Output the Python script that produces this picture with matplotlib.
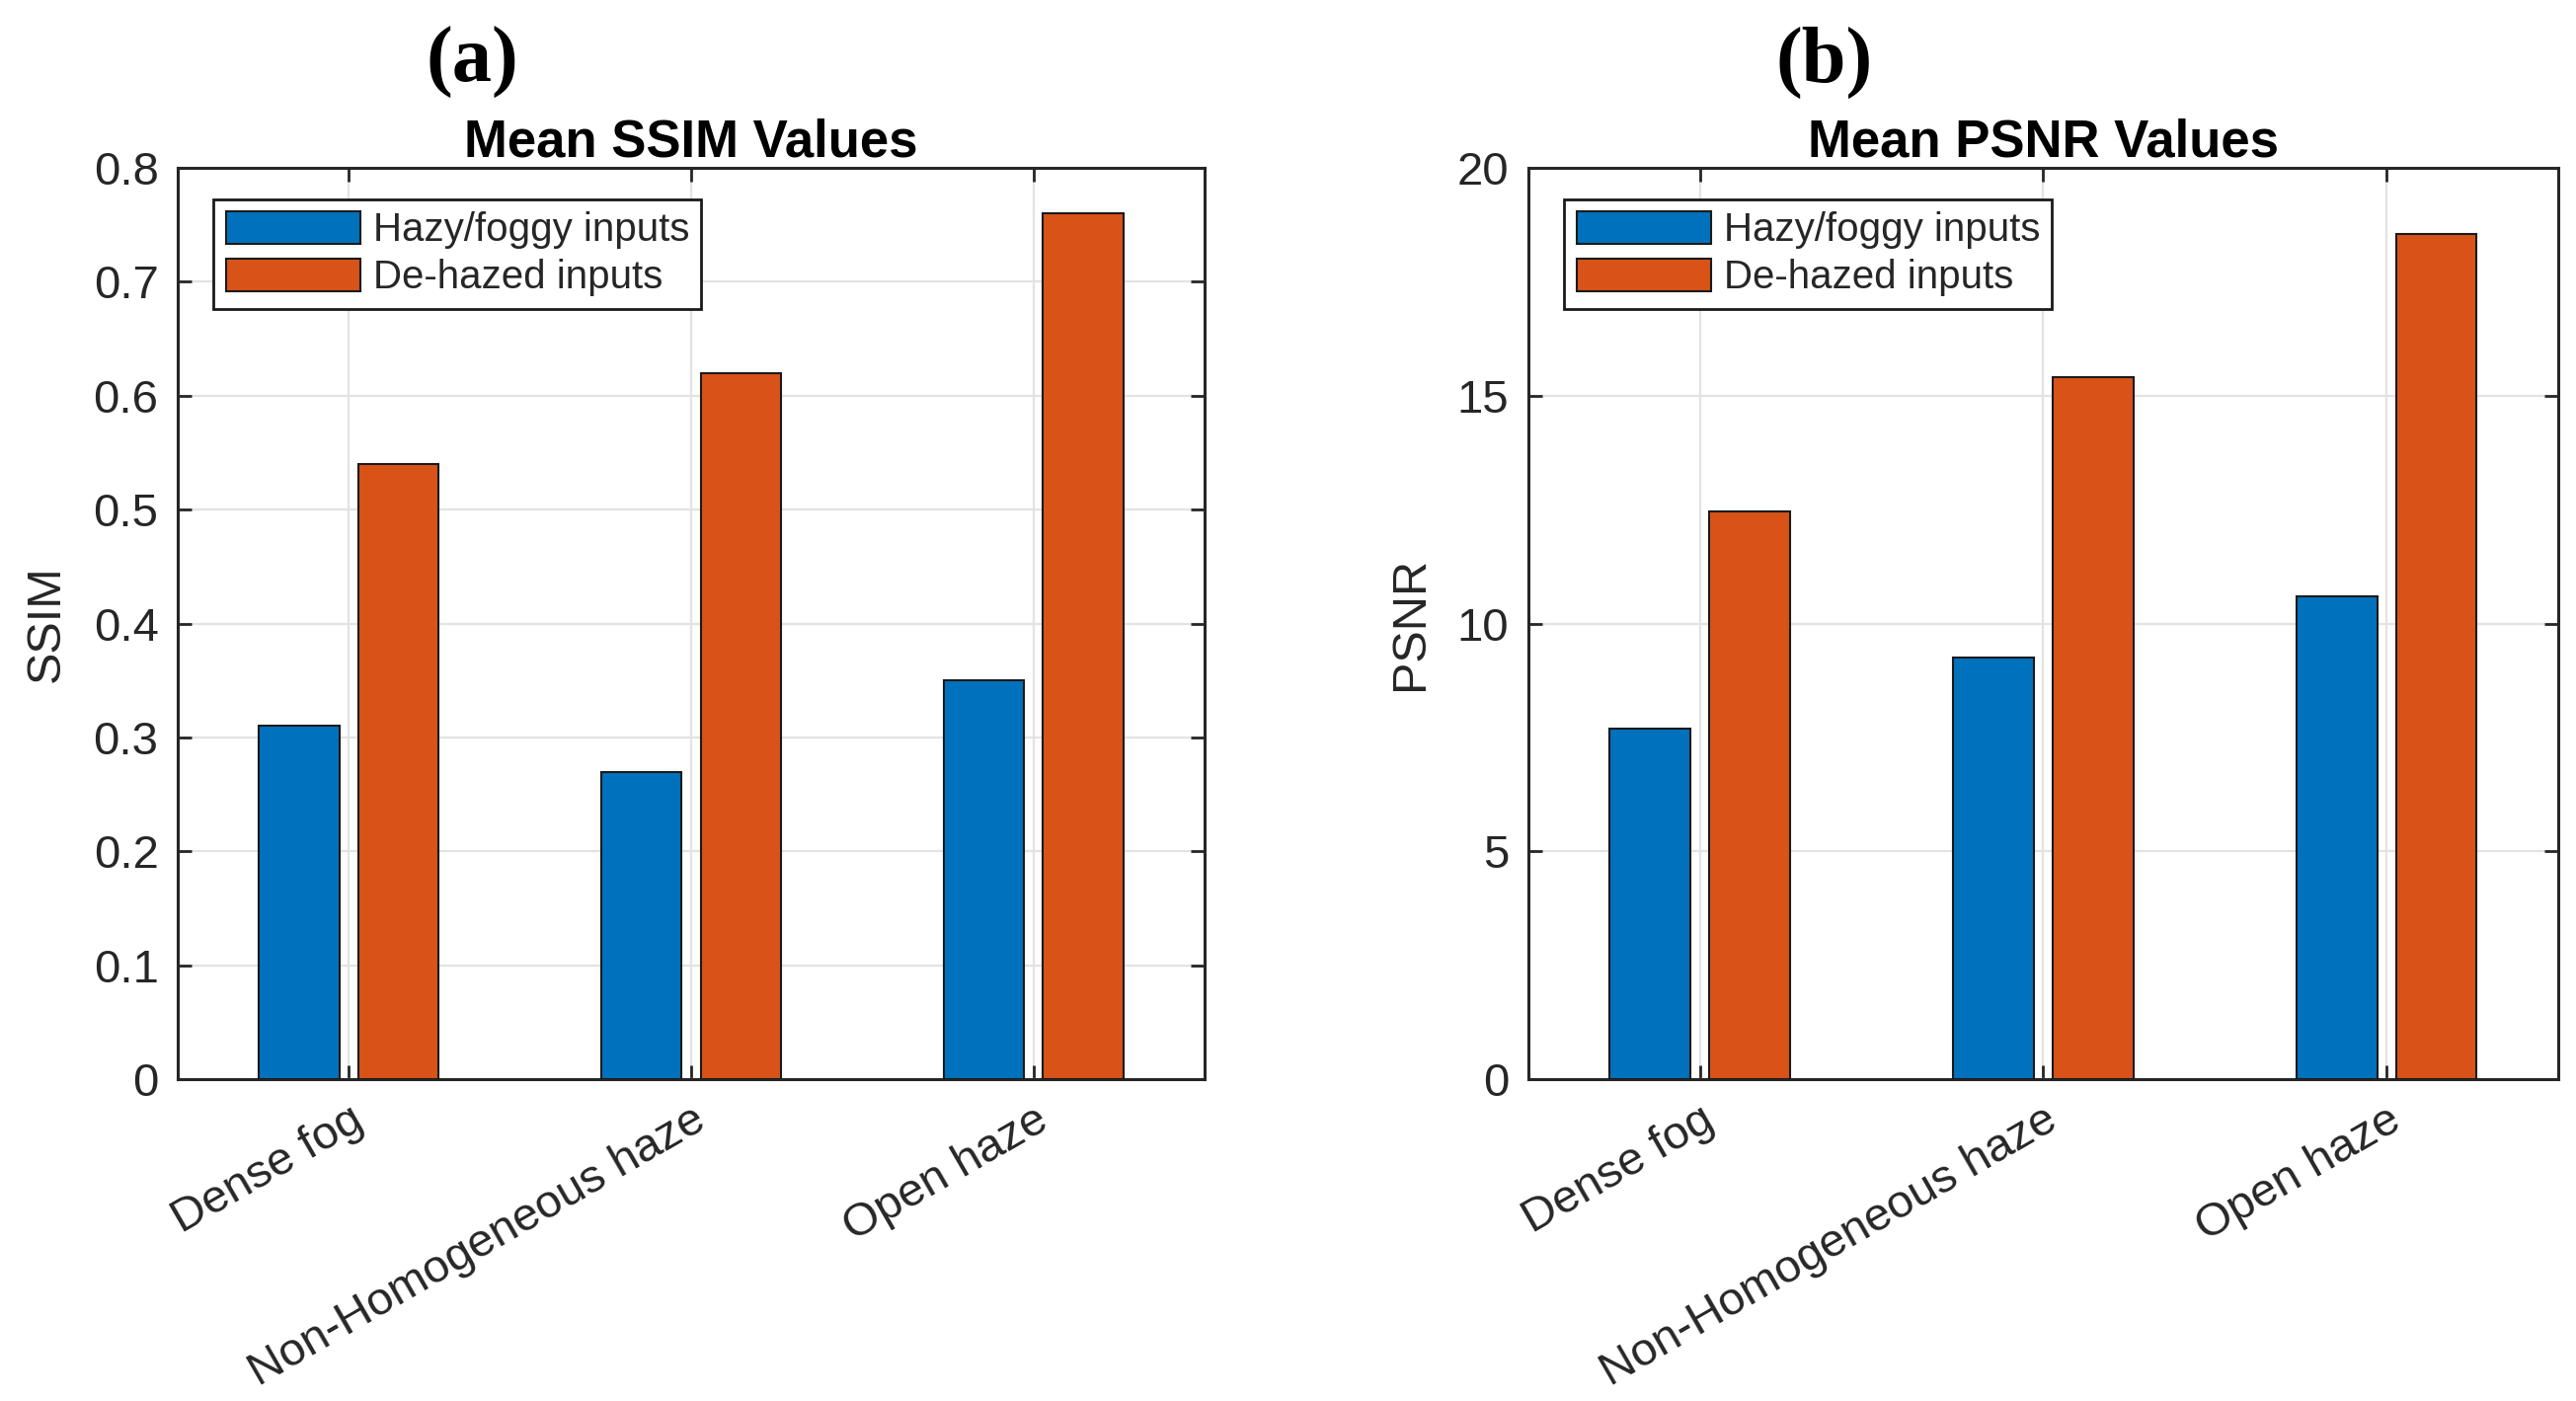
import numpy as np
import matplotlib.pyplot as plt
from matplotlib.ticker import FuncFormatter

categories = ["Dense fog", "Non-Homogeneous haze", "Open haze"]
series_names = ["Hazy/foggy inputs", "De-hazed inputs"]

ssim_hazy = [0.31, 0.27, 0.35]
ssim_dehazed = [0.54, 0.62, 0.76]

psnr_hazy = [7.7, 9.25, 10.6]
psnr_dehazed = [12.45, 15.4, 18.55]

blue = "#0072BD"
orange = "#D95319"
axcol = "#262626"

plt.rcParams['font.family'] = ['Liberation Sans', 'DejaVu Sans']

fig = plt.figure(figsize=(26.09, 14.19), dpi=100)


def panel(rect, hazy, dehazed, ymax, yticks, ylabel, title, letter):
    ax = fig.add_axes(rect)
    x = np.arange(1, len(categories) + 1)
    w = 0.235
    off = 0.145
    ax.bar(x - off, hazy, w, color=blue, edgecolor="#1a1a1a", linewidth=1.5,
           label=series_names[0], zorder=3)
    ax.bar(x + off, dehazed, w, color=orange, edgecolor="#1a1a1a", linewidth=1.5,
           label=series_names[1], zorder=3)
    ax.set_xlim(0.5, 3.5)
    ax.set_ylim(0, ymax)
    ax.set_yticks(yticks)
    ax.yaxis.set_major_formatter(FuncFormatter(lambda v, p: f"{v:g}"))
    ax.set_xticks(x)
    ax.set_xticklabels(categories, rotation=30, ha="right", va="top",
                       rotation_mode="anchor", fontsize=34, color=axcol)
    ax.tick_params(axis="y", labelsize=34, labelcolor=axcol)
    ax.tick_params(direction="in", length=10, width=2, color=axcol,
                   top=True, right=True, pad=14)
    ax.grid(True, color="#e3e3e3", linewidth=1.6, zorder=0)
    ax.set_axisbelow(True)
    for s in ax.spines.values():
        s.set_color(axcol)
        s.set_linewidth(2.2)
    ax.set_ylabel(ylabel, fontsize=35, color=axcol, labelpad=18)
    ax.set_title(title, fontsize=38, fontweight="bold", color="black", pad=8)
    leg = ax.legend(loc="upper left", bbox_to_anchor=(0.035, 0.965),
                    borderaxespad=0, fancybox=False, fontsize=29,
                    handlelength=3.4, handleheight=0.85, handletextpad=0.3,
                    labelspacing=0.25, borderpad=0.3, framealpha=1)
    leg.get_frame().set_edgecolor("#1a1a1a")
    leg.get_frame().set_linewidth(2)
    for t in leg.get_texts():
        t.set_color(axcol)
    cx = rect[0] + rect[2] * 0.287
    fig.text(cx, 0.955, letter, ha="center", va="center", fontsize=58,
             fontweight="bold", family="Liberation Serif")
    return ax


panel([0.069, 0.2297, 0.3986, 0.6505], ssim_hazy, ssim_dehazed, 0.8,
      np.arange(0, 0.81, 0.1), "SSIM", "Mean SSIM Values", "(a)")
panel([0.5933, 0.2297, 0.3998, 0.6505], psnr_hazy, psnr_dehazed, 20,
      [0, 5, 10, 15, 20], "PSNR", "Mean PSNR Values", "(b)")

fig.savefig("out.png", dpi=100)
